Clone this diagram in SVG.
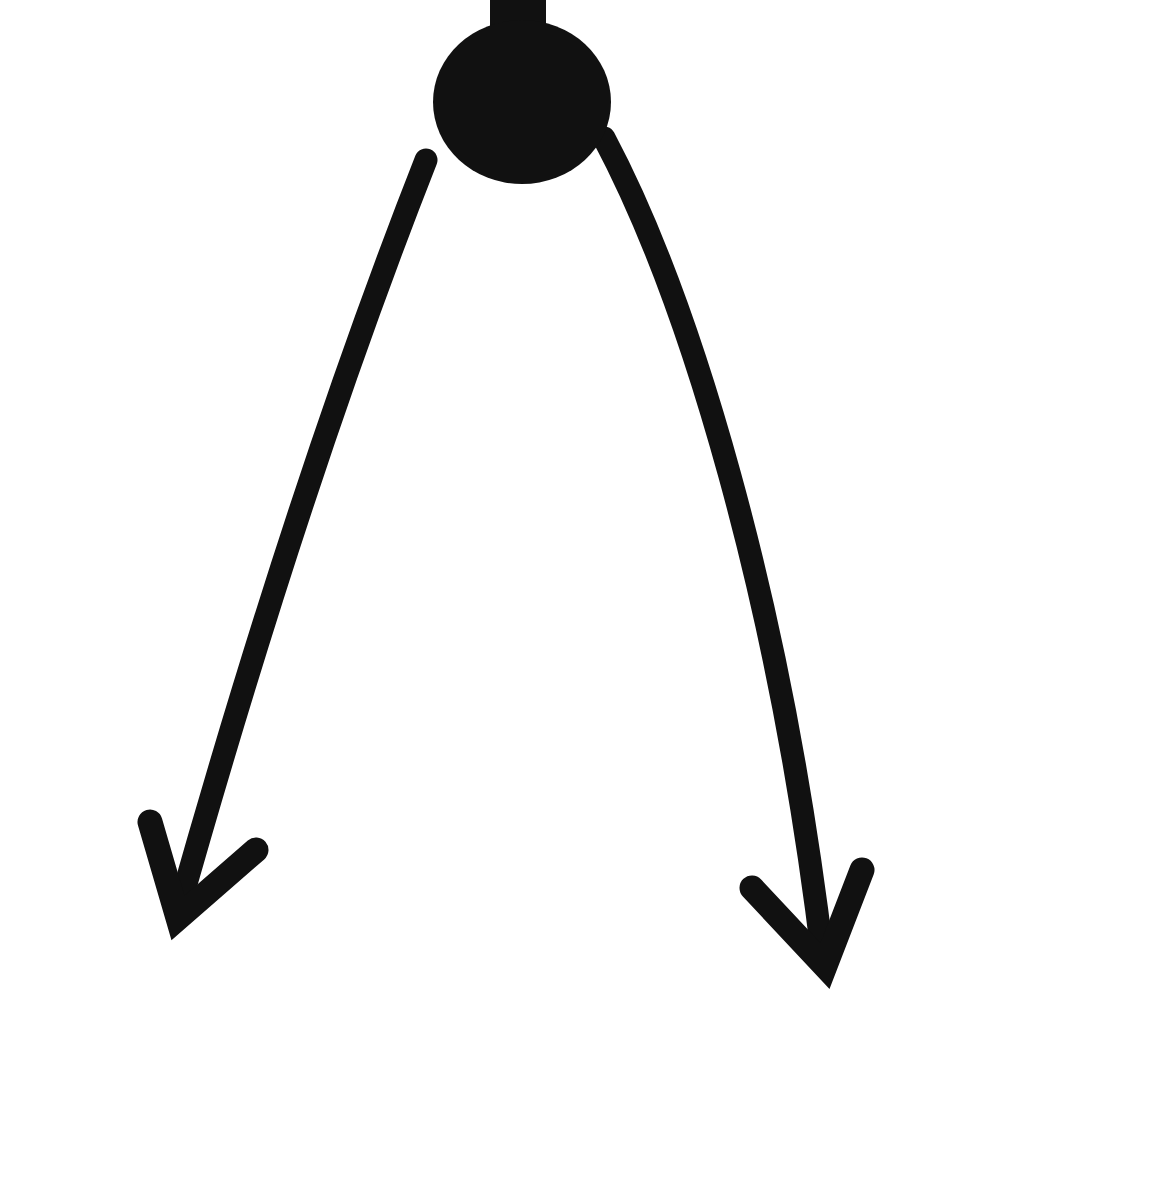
<svg xmlns="http://www.w3.org/2000/svg" width="1152" height="1200" viewBox="0 0 1152 1200">
<style>
.edge{fill:none;stroke:#111;stroke-width:23;stroke-linecap:round;stroke-linejoin:round}
.head{fill:none;stroke:#111;stroke-width:25;stroke-linecap:round;stroke-linejoin:miter;stroke-miterlimit:10}
.node{fill:#111}
</style>
<rect width="1152" height="1200" fill="#fff"/>
<g id="connectors">
<path class="edge" d="M 426 160 Q 300 480 178 912"/>
<path class="head" d="M 150 822 L 178 918 L 256 850"/>
<path class="edge" d="M 604 138 C 690 300 780 600 823 960"/>
<path class="head" d="M 752 888 L 825 966 L 862 870"/>
</g>
<g id="node-dot">
<rect class="node" x="490" y="0" width="56" height="60"/>
<ellipse class="node" cx="522" cy="102" rx="89" ry="82"/>
</g>
</svg>
